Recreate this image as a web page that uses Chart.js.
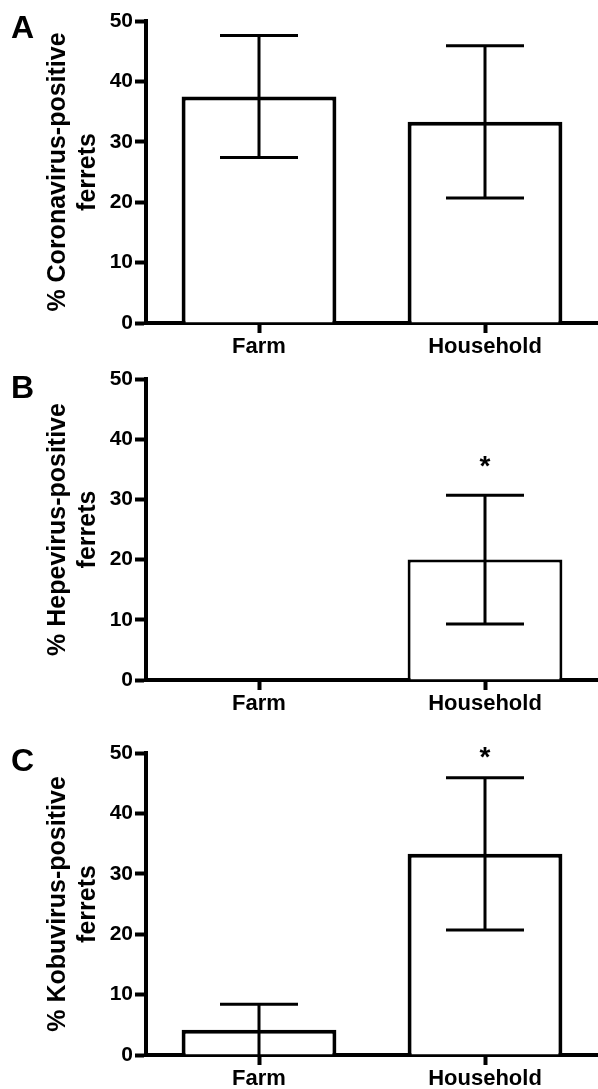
<!DOCTYPE html>
<html>
<head>
<meta charset="utf-8">
<script src="https://cdn.jsdelivr.net/npm/chart.js@4/dist/chart.umd.min.js"></script>
<style>
  html, body { margin: 0; padding: 0; background: #fff; }
  body { width: 598px; height: 1089px; position: relative; overflow: hidden; }
  .panel { position: absolute; left: 0; width: 598px; }
  .letter { position: absolute; left: 11px; font: bold 32px/32px 'Liberation Sans', Arial, sans-serif; color: #000; }
</style>
</head>
<body>
<div class="panel" style="top:0px;height:360px"><canvas id="chartA"></canvas></div>
<div class="panel" style="top:358px;height:360px"><canvas id="chartB"></canvas></div>
<div class="panel" style="top:732px;height:357px"><canvas id="chartC"></canvas></div>
<div class="letter" style="top:11px">A</div>
<div class="letter" style="top:371px">B</div>
<div class="letter" style="top:744px">C</div>
<script>
// data (mean % positive, error = SEM)
const categories = ['Farm', 'Household'];
const yTicks = [0, 10, 20, 30, 40, 50];

const coronaValues = [37.5, 33.3];
const coronaErrors = [10.1, 12.6];
const coronaStars = ['', ''];

const hepeValues = [0, 20.0];
const hepeErrors = [0, 10.7];
const hepeStars = ['', '*'];

const kobuValues = [4.2, 33.3];
const kobuErrors = [4.2, 12.6];
const kobuStars = ['', '*'];

Chart.defaults.font.family = "'Liberation Sans', Arial, sans-serif";
Chart.defaults.color = '#000';

// draws the SEM whiskers and significance stars on top of the bars
const errorBars = {
  id: 'errorBars',
  afterDatasetsDraw(chart, args, opts) {
    const ctx = chart.ctx;
    const y = chart.scales.y;
    const meta = chart.getDatasetMeta(0);
    const vals = chart.data.datasets[0].data;
    ctx.save();
    ctx.strokeStyle = '#000';
    ctx.fillStyle = '#000';
    ctx.lineWidth = opts.width;
    meta.data.forEach((bar, i) => {
      const e = opts.errors[i];
      const x = bar.x;
      let top = y.getPixelForValue(vals[i]);
      if (e) {
        top = y.getPixelForValue(vals[i] + e);
        const low = vals[i] - e;
        const bot = y.getPixelForValue(Math.max(low, 0));
        ctx.beginPath();
        ctx.moveTo(x, top); ctx.lineTo(x, bot);
        ctx.moveTo(x - opts.cap, top); ctx.lineTo(x + opts.cap, top);
        if (low > 0) {
          ctx.moveTo(x - opts.cap, bot); ctx.lineTo(x + opts.cap, bot);
        }
        ctx.stroke();
      }
      if (opts.stars[i]) {
        ctx.font = "bold 28px 'Liberation Sans', Arial, sans-serif";
        ctx.textAlign = 'center';
        ctx.textBaseline = 'alphabetic';
        ctx.fillText(opts.stars[i], x, top - opts.starGap + 15);
      }
    });
    ctx.restore();
  }
};

function makePanel(id, titleLines, values, errors, stars, look) {
  new Chart(document.getElementById(id), {
    type: 'bar',
    data: {
      labels: categories,
      datasets: [{
        data: values,
        backgroundColor: '#fff',
        borderColor: '#000',
        borderWidth: look.border,
        barPercentage: 0.685,
        categoryPercentage: 1
      }]
    },
    options: {
      responsive: true,
      maintainAspectRatio: false,
      animation: false,
      events: [],
      layout: { padding: { top: 21, right: -3, left: 0, bottom: 0 } },
      plugins: {
        legend: { display: false },
        tooltip: { enabled: false },
        errorBars: { errors: errors, stars: stars, width: 3, cap: 39, starGap: look.starGap }
      },
      scales: {
        x: {
          offset: true,
          border: { display: true, width: 4, color: '#000' },
          grid: { display: true, offset: false, drawOnChartArea: false, drawTicks: true, tickLength: 10, tickWidth: 4, tickColor: '#000' },
          ticks: { padding: 1, font: { size: 22, weight: 'bold' }, color: '#000', maxRotation: 0 },
          afterFit: s => { s.height = look.xh; }
        },
        y: {
          min: yTicks[0],
          max: yTicks[yTicks.length - 1],
          border: { display: true, width: 4, color: '#000' },
          grid: { display: true, drawOnChartArea: false, drawTicks: true, tickLength: 11, tickWidth: 4, tickColor: '#000' },
          ticks: { stepSize: yTicks[1] - yTicks[0], padding: 2, font: { size: 21, weight: 'bold' }, color: '#000' },
          title: {
            display: true,
            text: titleLines,
            color: '#000',
            font: { size: 25, weight: 'bold', lineHeight: 1.2 },
            padding: { top: 43, bottom: 0 }
          },
          afterFit: s => { s.width = 146; }
        }
      }
    },
    plugins: [errorBars]
  });
}

makePanel('chartA', ['% Coronavirus-positive', 'ferrets'], coronaValues, coronaErrors, coronaStars, { border: 4, xh: 37, starGap: 30 });
makePanel('chartB', ['% Hepevirus-positive', 'ferrets'], hepeValues, hepeErrors, hepeStars, { border: 3, xh: 38, starGap: 35 });
makePanel('chartC', ['% Kobuvirus-positive', 'ferrets'], kobuValues, kobuErrors, kobuStars, { border: 4, xh: 34, starGap: 27 });
</script>
</body>
</html>
